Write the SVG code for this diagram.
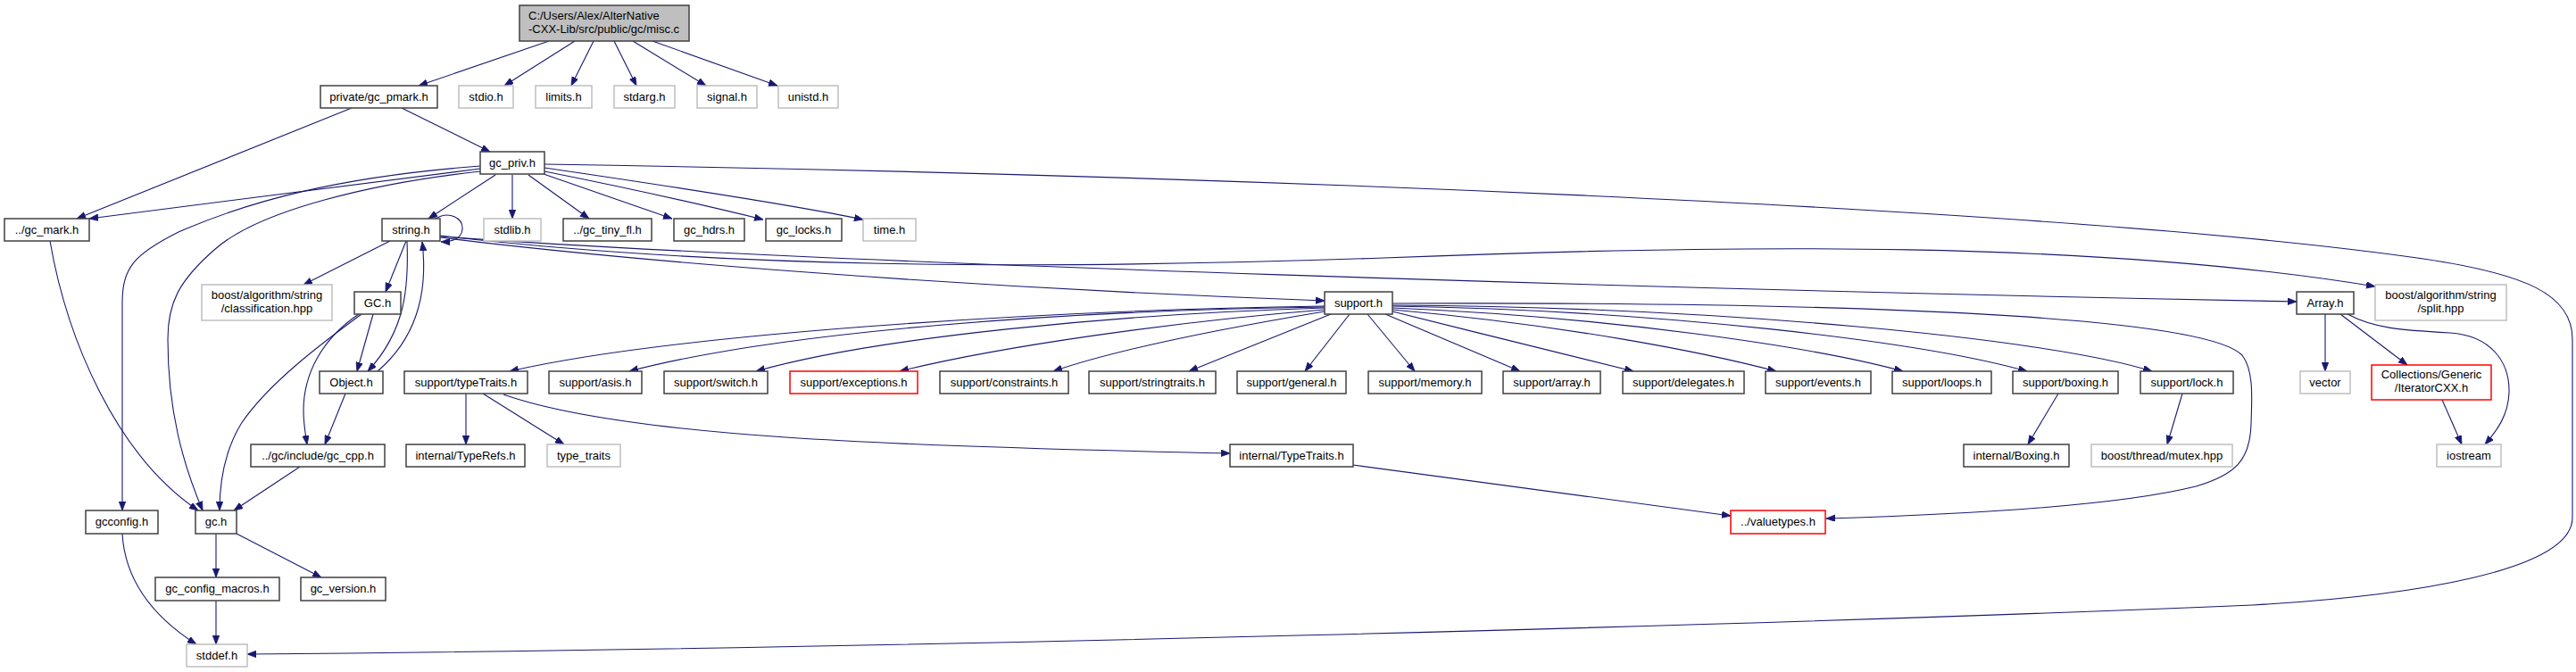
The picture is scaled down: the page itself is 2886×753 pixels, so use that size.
<svg xmlns="http://www.w3.org/2000/svg" width="2886" height="753" viewBox="0 0 2886 753">
<style>
.n rect{fill:#fff;stroke:#404040;stroke-width:1.5}
.g rect{fill:#fff;stroke:#bfbfbf;stroke-width:1.5}
.r rect{fill:#fff;stroke:#ff0000;stroke-width:1.5}
.root rect{fill:#bfbfbf;stroke:#404040;stroke-width:1.5}
text{font-family:"Liberation Sans",Arial,sans-serif;font-size:13px;fill:#000;text-anchor:middle}
.root text{text-anchor:start}
#edges path{fill:none;stroke:#191970;stroke-width:1.1;marker-end:url(#ah)}
</style>
<defs>
<marker id="ah" markerWidth="11" markerHeight="8" refX="10" refY="3.75" orient="auto" markerUnits="userSpaceOnUse">
<path d="M0,0 L10,3.75 L0,7.5 z" fill="#191970" stroke="#191970" stroke-width="0.8"/>
</marker>
</defs>
<rect width="2886" height="753" fill="#fff"/>
<g id="edges">
<path d="M615,46 L469,96"/>
<path d="M644,46 L565,96"/>
<path d="M665,46 L640,96"/>
<path d="M688,46 L713,96"/>
<path d="M709,46 L791,96"/>
<path d="M731,46 L871,96"/>
<path d="M394,121 L86,245"/>
<path d="M450,121 L549,170"/>
<path d="M538,189 L100,245"/>
<path d="M538,186 C380,198 280,225 200,260 C150,285 137,300 137,340 L137,572"/>
<path d="M538,192 C420,205 290,235 240,280 C200,315 188,340 188,380 C188,460 205,520 227,572"/>
<path d="M555,196 L480,245"/>
<path d="M574,196 L574,245"/>
<path d="M592,196 L660,245"/>
<path d="M609,195 L753,245"/>
<path d="M610,192 C700,210 790,230 855,246"/>
<path d="M610,188 C760,210 900,232 967,246"/>
<path d="M610,184 C1300,195 2300,230 2715,290 C2830,307 2882,330 2882,380 L2882,580 C2882,640 2700,668 2524,678 C2000,700 1000,727 277,733"/>
<path d="M56,270 C75,380 130,510 222,572"/>
<path d="M488,245 C503,236 519,244 518,257 C517,267 507,271 494,271"/>
<path d="M437,270 L340,319"/>
<path d="M455,270 L432,327"/>
<path d="M456,270 C458,320 455,370 412,416"/>
<path d="M423,416 C465,380 480,330 473,271"/>
<path d="M418,352 L400,416"/>
<path d="M405,352 C360,385 300,430 270,475 C252,505 246,540 246,572"/>
<path d="M402,352 C360,380 340,420 340,460 C340,475 342,485 344,498"/>
<path d="M387,441 L364,498"/>
<path d="M336,523 L262,572"/>
<path d="M242,598 L242,647"/>
<path d="M265,598 L360,647"/>
<path d="M137,598 C140,650 170,690 220,722"/>
<path d="M242,673 L242,722"/>
<path d="M493,266 C690,291 1070,322 1484,337"/>
<path d="M493,265 C900,295 1900,325 2573,338"/>
<path d="M493,264 C800,300 1150,303 1550,289 C1950,273 2350,270 2661,321"/>
<path d="M1484,343 C1150,348 750,375 571,416"/>
<path d="M1484,344 C1200,348 880,370 705,416"/>
<path d="M1484,345 C1250,352 980,378 847,416"/>
<path d="M1484,347 C1320,360 1120,388 1008,416"/>
<path d="M1484,349 C1370,368 1250,392 1180,416"/>
<path d="M1491,352 L1332,416"/>
<path d="M1512,352 L1462,416"/>
<path d="M1532,352 L1585,416"/>
<path d="M1552,352 L1703,416"/>
<path d="M1560,349 C1650,372 1760,398 1830,416"/>
<path d="M1560,347 C1760,365 1910,395 1990,416"/>
<path d="M1560,345 C1800,355 2030,388 2132,416"/>
<path d="M1560,343 C1860,348 2150,382 2271,416"/>
<path d="M1560,342 C1920,344 2290,378 2411,416"/>
<path d="M1560,340 C2100,338 2470,355 2512,398 C2525,415 2523,445 2522,475 C2521,515 2505,532 2460,545 C2360,570 2150,578 2046,581"/>
<path d="M522,441 L522,498"/>
<path d="M541,441 L632,498"/>
<path d="M564,442 C700,490 1000,500 1378,508"/>
<path d="M1516,521 L1939,578"/>
<path d="M2306,441 L2272,498"/>
<path d="M2445,441 L2428,498"/>
<path d="M2605,352 L2605,416"/>
<path d="M2622,352 L2697,409"/>
<path d="M2630,352 C2660,368 2690,370 2745,373 C2790,376 2812,405 2811,440 C2810,465 2798,482 2784,498"/>
<path d="M2736,448 L2758,498"/>
</g>
<g id="misc_c" class="root"><rect x="582" y="6" width="190" height="40"/><text x="592" y="22">C:/Users/Alex/AlterNative</text><text x="592" y="37">-CXX-Lib/src/public/gc/misc.c</text></g>
<g id="gc_pmark" class="n"><rect x="359" y="96" width="131" height="25"/><text x="424.5" y="113">private/gc_pmark.h</text></g>
<g id="stdio" class="g"><rect x="514" y="96" width="61" height="25"/><text x="544.5" y="113">stdio.h</text></g>
<g id="limits" class="g"><rect x="600" y="96" width="63" height="25"/><text x="631.5" y="113">limits.h</text></g>
<g id="stdarg" class="g"><rect x="688" y="96" width="68" height="25"/><text x="722" y="113">stdarg.h</text></g>
<g id="signal" class="g"><rect x="781" y="96" width="67" height="25"/><text x="814.5" y="113">signal.h</text></g>
<g id="unistd" class="g"><rect x="872" y="96" width="67" height="25"/><text x="905.5" y="113">unistd.h</text></g>
<g id="gc_priv" class="n"><rect x="538" y="170" width="72" height="25"/><text x="574" y="187">gc_priv.h</text></g>
<g id="gc_mark" class="n"><rect x="5" y="245" width="95" height="25"/><text x="52.5" y="262">../gc_mark.h</text></g>
<g id="string_h" class="n"><rect x="428" y="245" width="65" height="25"/><text x="460.5" y="262">string.h</text></g>
<g id="stdlib" class="g"><rect x="542" y="245" width="64" height="25"/><text x="574" y="262">stdlib.h</text></g>
<g id="gc_tiny_fl" class="n"><rect x="631" y="245" width="99" height="25"/><text x="680.5" y="262">../gc_tiny_fl.h</text></g>
<g id="gc_hdrs" class="n"><rect x="755" y="245" width="79" height="25"/><text x="794.5" y="262">gc_hdrs.h</text></g>
<g id="gc_locks" class="n"><rect x="858" y="245" width="85" height="25"/><text x="900.5" y="262">gc_locks.h</text></g>
<g id="time_h" class="g"><rect x="967" y="245" width="59" height="25"/><text x="996.5" y="262">time.h</text></g>
<g id="classification" class="g"><rect x="226" y="319" width="146" height="40"/><text x="299" y="335">boost/algorithm/string</text><text x="299" y="350">/classification.hpp</text></g>
<g id="GC_h" class="n"><rect x="397" y="327" width="52" height="25"/><text x="423" y="344">GC.h</text></g>
<g id="support_h" class="n"><rect x="1484" y="327" width="76" height="25"/><text x="1522" y="344">support.h</text></g>
<g id="Array_h" class="n"><rect x="2573" y="327" width="64" height="25"/><text x="2605" y="344">Array.h</text></g>
<g id="split_hpp" class="g"><rect x="2661" y="319" width="147" height="40"/><text x="2734.5" y="335">boost/algorithm/string</text><text x="2734.5" y="350">/split.hpp</text></g>
<g id="Object_h" class="n"><rect x="358" y="416" width="71" height="25"/><text x="393.5" y="433">Object.h</text></g>
<g id="typeTraits" class="n"><rect x="453" y="416" width="138" height="25"/><text x="522" y="433">support/typeTraits.h</text></g>
<g id="asis" class="n"><rect x="615" y="416" width="104" height="25"/><text x="667" y="433">support/asis.h</text></g>
<g id="switch" class="n"><rect x="744" y="416" width="116" height="25"/><text x="802" y="433">support/switch.h</text></g>
<g id="exceptions" class="r"><rect x="885" y="416" width="143" height="25"/><text x="956.5" y="433">support/exceptions.h</text></g>
<g id="constraints" class="n"><rect x="1053" y="416" width="144" height="25"/><text x="1125" y="433">support/constraints.h</text></g>
<g id="stringtraits" class="n"><rect x="1220" y="416" width="142" height="25"/><text x="1291" y="433">support/stringtraits.h</text></g>
<g id="general" class="n"><rect x="1386" y="416" width="122" height="25"/><text x="1447" y="433">support/general.h</text></g>
<g id="memory" class="n"><rect x="1533" y="416" width="127" height="25"/><text x="1596.5" y="433">support/memory.h</text></g>
<g id="array" class="n"><rect x="1684" y="416" width="109" height="25"/><text x="1738.5" y="433">support/array.h</text></g>
<g id="delegates" class="n"><rect x="1818" y="416" width="136" height="25"/><text x="1886" y="433">support/delegates.h</text></g>
<g id="events" class="n"><rect x="1978" y="416" width="118" height="25"/><text x="2037" y="433">support/events.h</text></g>
<g id="loops" class="n"><rect x="2120" y="416" width="111" height="25"/><text x="2175.5" y="433">support/loops.h</text></g>
<g id="boxing" class="n"><rect x="2255" y="416" width="118" height="25"/><text x="2314" y="433">support/boxing.h</text></g>
<g id="lock" class="n"><rect x="2398" y="416" width="104" height="25"/><text x="2450" y="433">support/lock.h</text></g>
<g id="vector" class="g"><rect x="2577" y="416" width="56" height="25"/><text x="2605" y="433">vector</text></g>
<g id="IteratorCXX" class="r"><rect x="2657" y="409" width="134" height="39"/><text x="2724" y="424">Collections/Generic</text><text x="2724" y="439">/IteratorCXX.h</text></g>
<g id="gc_cpp" class="n"><rect x="281" y="498" width="150" height="25"/><text x="356" y="515">../gc/include/gc_cpp.h</text></g>
<g id="TypeRefs" class="n"><rect x="455" y="498" width="133" height="25"/><text x="521.5" y="515">internal/TypeRefs.h</text></g>
<g id="type_traits" class="g"><rect x="613" y="498" width="82" height="25"/><text x="654" y="515">type_traits</text></g>
<g id="internal_TypeTraits" class="n"><rect x="1378" y="498" width="138" height="25"/><text x="1447" y="515">internal/TypeTraits.h</text></g>
<g id="internal_Boxing" class="n"><rect x="2200" y="498" width="118" height="25"/><text x="2259" y="515">internal/Boxing.h</text></g>
<g id="mutex" class="g"><rect x="2343" y="498" width="158" height="25"/><text x="2422" y="515">boost/thread/mutex.hpp</text></g>
<g id="iostream" class="g"><rect x="2730" y="498" width="72" height="25"/><text x="2766" y="515">iostream</text></g>
<g id="gcconfig" class="n"><rect x="96" y="572" width="81" height="26"/><text x="136.5" y="589">gcconfig.h</text></g>
<g id="gc_h" class="n"><rect x="219" y="572" width="46" height="26"/><text x="242" y="589">gc.h</text></g>
<g id="valuetypes" class="r"><rect x="1939" y="572" width="106" height="26"/><text x="1992" y="589">../valuetypes.h</text></g>
<g id="gc_config_macros" class="n"><rect x="174" y="647" width="139" height="26"/><text x="243.5" y="664">gc_config_macros.h</text></g>
<g id="gc_version" class="n"><rect x="337" y="647" width="95" height="26"/><text x="384.5" y="664">gc_version.h</text></g>
<g id="stddef" class="g"><rect x="209" y="722" width="68" height="25"/><text x="243" y="739">stddef.h</text></g>
</svg>
